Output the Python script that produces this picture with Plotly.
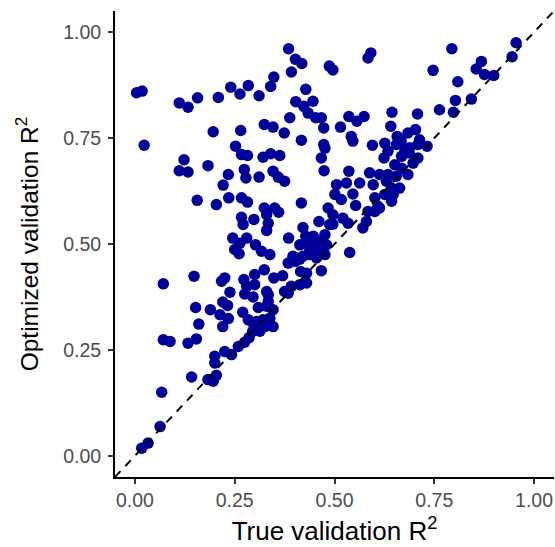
import plotly.graph_objects as go

true_r2 = [
    0.004, 0.018, 0.023, 0.111, 0.133, 0.157, 0.209, 0.240, 0.263, 0.284,
    0.311, 0.340, 0.348, 0.385, 0.402, 0.418, 0.392, 0.428, 0.403, 0.423,
    0.446, 0.434, 0.453, 0.467, 0.473, 0.388, 0.487, 0.496, 0.324, 0.346,
    0.374, 0.196, 0.265, 0.252, 0.267, 0.282, 0.321, 0.340, 0.363, 0.417,
    0.473, 0.476, 0.467, 0.123, 0.111, 0.133, 0.183, 0.234, 0.221, 0.274,
    0.278, 0.311, 0.346, 0.359, 0.375, 0.474, 0.156, 0.204, 0.235, 0.267,
    0.282, 0.324, 0.350, 0.360, 0.417, 0.484, 0.267, 0.298, 0.330, 0.334,
    0.271, 0.330, 0.461, 0.421, 0.245, 0.280, 0.385, 0.428, 0.488,
    0.591, 0.584, 0.794, 0.747, 0.809, 0.868, 0.855, 0.876, 0.899, 0.955,
    0.945, 0.803, 0.843, 0.798, 0.763, 0.708, 0.644, 0.536, 0.556, 0.574,
    0.515, 0.542, 0.546, 0.595, 0.641, 0.657, 0.684, 0.703, 0.626, 0.655,
    0.732, 0.688, 0.709, 0.624, 0.668, 0.687, 0.709, 0.651, 0.668, 0.684,
    0.536, 0.588, 0.613, 0.563, 0.505, 0.530, 0.597, 0.630, 0.643, 0.663,
    0.546, 0.501, 0.517, 0.601, 0.626, 0.643, 0.553, 0.496, 0.601, 0.609,
    0.521, 0.534, 0.580, 0.571, 0.496, 0.476, 0.667, 0.713, 0.634, 0.676,
    0.697, 0.634, 0.655, 0.647, 0.613, 0.584,
    0.017, 0.033, 0.063, 0.067, 0.142, 0.183, 0.196, 0.204, 0.200, 0.200,
    0.225, 0.242, 0.259, 0.275, 0.286, 0.295, 0.071, 0.088, 0.133, 0.154,
    0.160, 0.152, 0.189, 0.220, 0.234, 0.220, 0.232, 0.270, 0.284, 0.296,
    0.309, 0.330, 0.346, 0.321, 0.338, 0.325, 0.346, 0.305, 0.071, 0.148,
    0.217, 0.225, 0.238, 0.273, 0.280, 0.275, 0.300, 0.300, 0.324, 0.330,
    0.334, 0.348, 0.370, 0.375, 0.392, 0.413, 0.430, 0.415, 0.430, 0.384,
    0.401, 0.467, 0.263, 0.250, 0.261, 0.302, 0.317, 0.338, 0.413, 0.430,
    0.451, 0.463, 0.480, 0.421, 0.438, 0.455, 0.447, 0.438, 0.459, 0.396,
    0.296, 0.384, 0.213, 0.334, 0.313, 0.413, 0.538, 0.476,
]

optimized_r2 = [
    0.857, 0.861, 0.733, 0.833, 0.823, 0.845, 0.846, 0.870, 0.854, 0.874,
    0.850, 0.872, 0.894, 0.961, 0.936, 0.926, 0.906, 0.865, 0.836, 0.825,
    0.837, 0.809, 0.798, 0.798, 0.774, 0.798, 0.920, 0.911, 0.782, 0.776,
    0.762, 0.765, 0.768, 0.731, 0.711, 0.709, 0.705, 0.713, 0.709, 0.745,
    0.735, 0.726, 0.703, 0.699, 0.673, 0.670, 0.685, 0.664, 0.639, 0.676,
    0.656, 0.658, 0.672, 0.658, 0.648, 0.673, 0.603, 0.593, 0.609, 0.609,
    0.599, 0.585, 0.585, 0.575, 0.597, 0.585, 0.563, 0.558, 0.569, 0.549,
    0.546, 0.532, 0.553, 0.539, 0.514, 0.514, 0.514, 0.518, 0.546,
    0.951, 0.939, 0.961, 0.910, 0.883, 0.931, 0.913, 0.900, 0.898, 0.975,
    0.942, 0.839, 0.842, 0.811, 0.817, 0.807, 0.811, 0.801, 0.790, 0.801,
    0.776, 0.754, 0.743, 0.733, 0.778, 0.754, 0.762, 0.770, 0.738, 0.735,
    0.731, 0.727, 0.735, 0.703, 0.707, 0.715, 0.703, 0.687, 0.679, 0.664,
    0.672, 0.668, 0.664, 0.644, 0.640, 0.644, 0.640, 0.648, 0.632, 0.632,
    0.618, 0.617, 0.605, 0.609, 0.617, 0.601, 0.591, 0.569, 0.577, 0.589,
    0.561, 0.549, 0.553, 0.538, 0.547, 0.522, 0.743, 0.746, 0.719, 0.719,
    0.691, 0.664, 0.660, 0.617, 0.585, 0.577,
    0.018, 0.030, 0.069, 0.150, 0.186, 0.180, 0.176, 0.190, 0.219, 0.235,
    0.246, 0.239, 0.258, 0.268, 0.279, 0.294, 0.274, 0.270, 0.266, 0.276,
    0.311, 0.350, 0.345, 0.305, 0.324, 0.363, 0.355, 0.339, 0.321, 0.313,
    0.350, 0.353, 0.345, 0.321, 0.325, 0.305, 0.305, 0.317, 0.406, 0.424,
    0.412, 0.420, 0.386, 0.416, 0.400, 0.382, 0.428, 0.404, 0.439, 0.388,
    0.380, 0.420, 0.425, 0.388, 0.400, 0.404, 0.408, 0.435, 0.431, 0.455,
    0.459, 0.437, 0.502, 0.487, 0.477, 0.498, 0.483, 0.475, 0.498, 0.506,
    0.494, 0.506, 0.498, 0.471, 0.475, 0.467, 0.518, 0.487, 0.483, 0.471,
    0.375, 0.384, 0.333, 0.364, 0.294, 0.464, 0.480, 0.475,
]

axis_range = [-0.05, 1.05]
tick_vals = [0.0, 0.25, 0.5, 0.75, 1.0]
tick_text = ["0.00", "0.25", "0.50", "0.75", "1.00"]

fig = go.Figure()
fig.add_trace(go.Scatter(
    x=true_r2, y=optimized_r2, mode="markers",
    marker=dict(size=11.5, color="#000099", line=dict(width=0)),
    showlegend=False, hoverinfo="skip",
))
fig.add_trace(go.Scatter(
    x=axis_range, y=axis_range, mode="lines",
    line=dict(color="black", width=2, dash="8px,7px"),
    showlegend=False, hoverinfo="skip",
))

font_family = "Liberation Sans, Arial, sans-serif"
axis_common = dict(
    range=axis_range, tickvals=tick_vals, ticktext=tick_text,
    showgrid=False, zeroline=False, automargin=False,
    showline=True, linecolor="black", linewidth=2,
    ticks="outside", ticklen=5, tickwidth=1.5, tickcolor="#333333",
    tickfont=dict(size=19.5, color="#4D4D4D", family=font_family),
)
fig.update_xaxes(**axis_common,
                 title=dict(text="True validation R<sup>2</sup>",
                            font=dict(size=26, color="black", family=font_family),
                            standoff=11))
fig.update_yaxes(**axis_common, ticklabelstandoff=3,
                 title=dict(text="Optimized validation R<sup>2</sup>",
                            font=dict(size=24.5, color="black", family=font_family),
                            standoff=18))
fig.update_layout(
    width=555, height=547,
    margin=dict(l=115, r=1, t=11, b=70),
    plot_bgcolor="white", paper_bgcolor="white",
    font=dict(family=font_family),
)
fig.write_html(
    "out.html",
    config={"displayModeBar": False},
    post_script="document.body.style.margin='0';document.body.style.padding='0';",
)
